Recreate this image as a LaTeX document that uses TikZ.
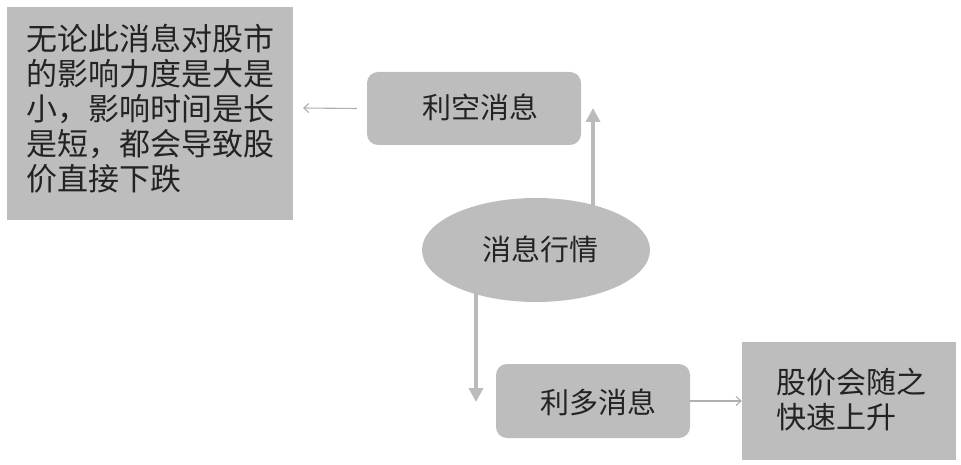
\documentclass[tikz,border=0pt]{standalone}
\usepackage{fontspec}
\setmainfont{Noto Sans CJK SC}
\usetikzlibrary{shapes.geometric,arrows.meta}
\definecolor{boxgray}{RGB}{190,189,190}
\definecolor{arrowgray}{RGB}{187,187,187}
\definecolor{thingray}{RGB}{175,175,175}
\definecolor{txt}{RGB}{35,35,35}
\begin{document}
\begin{tikzpicture}[x=1pt,y=-1pt,
  sqbox/.style={fill=boxgray,draw=none,inner sep=0pt},
  rbox/.style={fill=boxgray,draw=none,rounded corners=11pt,inner sep=0pt},
  lbl/.style={text=txt,font=\fontsize{29}{35}\selectfont},
  thick arrow/.style={draw=arrowgray,line width=4.5pt,-{Triangle[width=14pt,length=14pt]}},
  thin arrow/.style={draw=thingray,line width=1.1pt,-{Straight Barb[length=5pt,width=9pt]}}]
\useasboundingbox (0,0) rectangle (961,465);
% left box
\node[sqbox,minimum width=286pt,minimum height=213pt] (lb) at (150,113.5) {};
\node[lbl,font=\fontsize{31}{35}\selectfont,anchor=north west,align=left,inner sep=0pt] (lt) at (26,24)
  {无论此消息对股市\\的影响力度是大是\\小，影响时间是长\\是短，都会导致股\\价直接下跌};
\coordinate (lboxr) at (303,108);
% 利空消息
\node[rbox,minimum width=214pt,minimum height=73pt] (lk) at (474,108.5) {};
\node[lbl] (lkt) at (480,107) {利空消息};
% ellipse
\node[ellipse,fill=boxgray,minimum width=228pt,minimum height=104pt,inner sep=0pt] (xx) at (536,250) {};
\node[lbl] (xxt) at (540,249) {消息行情};
% 利多消息
\node[rbox,minimum width=194pt,minimum height=74pt] (ld) at (593,401) {};
\node[lbl] (ldt) at (598,402) {利多消息};
% right box
\node[sqbox,minimum width=214pt,minimum height=118pt] (rb) at (849,401) {};
\node[lbl,font=\fontsize{30}{35}\selectfont,anchor=north west,align=left,inner sep=0pt] (rbt) at (776,368) {股价会随之\\快速上升};
% arrows
\coordinate (upS) at (593,207);
\coordinate (upE) at (593,108);
\draw[thick arrow] (upS) -- (upE);
\coordinate (dnS) at (476,293);
\coordinate (dnE) at (476,402);
\draw[thick arrow] (dnS) -- (dnE);
\draw[thin arrow] (lk.west) ++(-10,0) coordinate (lkw) -- (lboxr);
\draw[thin arrow] (ld.east) -- (rb.west);
\end{tikzpicture}
\end{document}
